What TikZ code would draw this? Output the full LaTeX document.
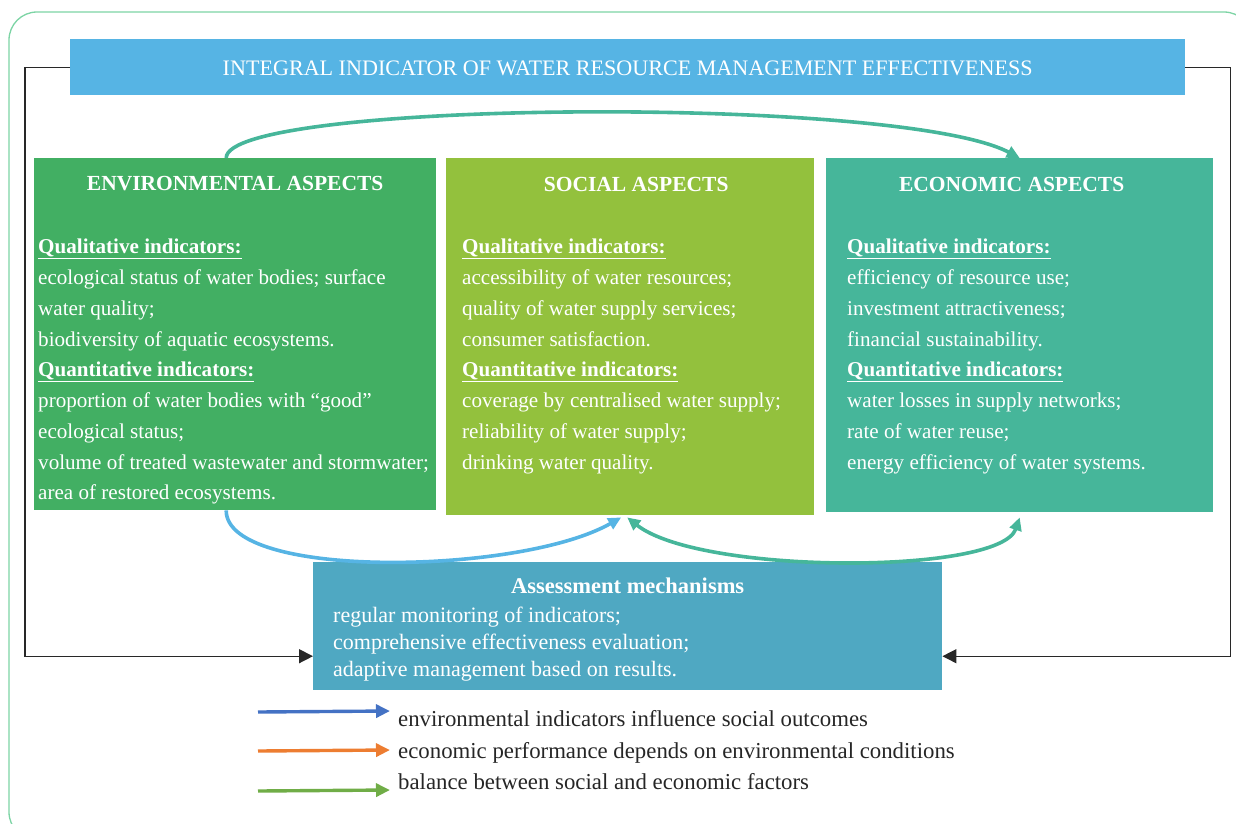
\documentclass[tikz,border=0pt]{standalone}
\usepackage{fontspec}
\setmainfont{Liberation Serif}
\usetikzlibrary{positioning,arrows.meta}

\definecolor{titleblue}{RGB}{86,180,228}
\definecolor{envgreen}{RGB}{66,175,99}
\definecolor{socgreen}{RGB}{147,193,61}
\definecolor{ecoteal}{RGB}{70,182,154}
\definecolor{assessblue}{RGB}{79,168,194}
\definecolor{framegreen}{RGB}{125,212,165}
\definecolor{feedgray}{RGB}{40,40,40}
\definecolor{legblue}{RGB}{68,114,196}
\definecolor{legorange}{RGB}{237,125,49}
\definecolor{leggreen}{RGB}{112,173,71}

\tikzset{
  aspectbox/.style={fill=#1, draw=none, inner sep=0pt, anchor=north west},
  headtext/.style={text=white, inner sep=0pt, font=\fontsize{21.5}{24}\selectfont\bfseries},
  bodytext/.style={text=white, inner sep=0pt, anchor=north west, align=left,
    font=\fontsize{21.1}{30.75}\selectfont},
  assesstext/.style={text=white, inner sep=0pt, anchor=north west, align=left,
    font=\fontsize{22}{27}\selectfont},
  legtext/.style={text=black!85, inner sep=0pt, anchor=base west,
    font=\fontsize{22.8}{24}\selectfont},
  linkarrow/.style={draw=#1, line width=3.6pt, -{Triangle[length=13pt,width=12pt]}},
  legarrow/.style={draw=#1, line width=3.4pt, -{Triangle[length=14pt,width=13pt]}},
  feedback/.style={draw=feedgray, line width=1.4pt, -{Triangle[length=14pt,width=14pt]}}
}

\newcommand{\qhead}[1]{\underline{\textbf{#1}}}

\begin{document}
\begin{tikzpicture}[x=1pt,y=-1pt]
  \useasboundingbox (0,0) rectangle (1236,823);

  % Drawing outer frame
  \draw[framegreen, line width=1.3pt, rounded corners=28pt] (9,12) rectangle (1252,840);

  % Drawing title box
  \node[aspectbox=titleblue, minimum width=1115pt, minimum height=56pt] (title) at (70,39) {};
  \node[text=white, inner sep=0pt, font=\fontsize{22.1}{24}\selectfont] (titletext)
    at ([yshift=-1pt]title.center) {INTEGRAL INDICATOR OF WATER RESOURCE MANAGEMENT EFFECTIVENESS};

  % Drawing aspect boxes
  \node[aspectbox=envgreen, minimum width=402pt, minimum height=352pt] (env) at (34,158) {};
  \node[aspectbox=socgreen, minimum width=368pt, minimum height=357pt] (soc) at (446,158) {};
  \node[aspectbox=ecoteal, minimum width=387pt, minimum height=354pt] (eco) at (826,158) {};

  % Marking headers
  \node[headtext] (envhead) at ([yshift=-26pt]env.north) {ENVIRONMENTAL ASPECTS};
  \node[headtext] (sochead) at ([xshift=6pt,yshift=-26pt]soc.north) {SOCIAL ASPECTS};
  \node[headtext] (ecohead) at ([xshift=-8pt,yshift=-26pt]eco.north) {ECONOMIC ASPECTS};

  % Marking indicator lists
  \node[bodytext] (envtext) at ([xshift=4pt,yshift=-81pt]env.north west) {%
    \qhead{Qualitative indicators:}\\
    ecological status of water bodies; surface\\
    water quality;\\
    biodiversity of aquatic ecosystems.\\
    \qhead{Quantitative indicators:}\\
    proportion of water bodies with “good”\\
    ecological status;\\
    volume of treated wastewater and stormwater;\\
    area of restored ecosystems.};
  \node[bodytext] (soctext) at ([xshift=16pt,yshift=-81pt]soc.north west) {%
    \qhead{Qualitative indicators:}\\
    accessibility of water resources;\\
    quality of water supply services;\\
    consumer satisfaction.\\
    \qhead{Quantitative indicators:}\\
    coverage by centralised water supply;\\
    reliability of water supply;\\
    drinking water quality.};
  \node[bodytext] (ecotext) at ([xshift=21pt,yshift=-81pt]eco.north west) {%
    \qhead{Qualitative indicators:}\\
    efficiency of resource use;\\
    investment attractiveness;\\
    financial sustainability.\\
    \qhead{Quantitative indicators:}\\
    water losses in supply networks;\\
    rate of water reuse;\\
    energy efficiency of water systems.};

  % Drawing assessment box
  \node[aspectbox=assessblue, minimum width=629pt, minimum height=128pt] (assess) at (313,562) {};
  \node[headtext, font=\fontsize{22.5}{24}\selectfont\bfseries] (assesshead)
    at ([yshift=-24pt]assess.north) {Assessment mechanisms};
  \node[assesstext] (assesslist) at ([xshift=20pt,yshift=-45pt]assess.north west) {%
    regular monitoring of indicators;\\
    comprehensive effectiveness evaluation;\\
    adaptive management based on results.};

  % Drawing links between aspects
  \draw[linkarrow=ecoteal] ([xshift=-9pt]env.north) .. controls (226,100) and (900,95) .. (eco.north);
  \draw[linkarrow=titleblue] ([xshift=-9pt]env.south) .. controls (226,580) and (520,575) .. ([xshift=-9pt,yshift=-2pt]soc.south);
  \draw[linkarrow=ecoteal, {Triangle[length=13pt,width=12pt]}-{Triangle[length=13pt,width=12pt]}]
    ([xshift=-3pt,yshift=-2pt]soc.south) .. controls (700,575) and (1000,575) .. ([yshift=-5pt]eco.south);

  % Drawing feedback lines
  \draw[feedback] (title.west) -- ++(-45,0) |- ([yshift=-30pt]assess.west);
  \draw[feedback] (title.east) -- ++(45,0) |- ([yshift=-30pt]assess.east);

  % Drawing legend
  \node[legtext] (leg1) at (398,726) {environmental indicators influence social outcomes};
  \node[legtext] (leg2) at (398,758) {economic performance depends on environmental conditions};
  \node[legtext] (leg3) at (398,789) {balance between social and economic factors};
  \coordinate (leg1s) at (258,712);
  \coordinate (leg2s) at (258,751);
  \coordinate (leg3s) at (258,791);
  \draw[legarrow=legblue] (leg1s) -- ([xshift=-8pt,yshift=1pt]leg1s -| leg1.west);
  \draw[legarrow=legorange] (leg2s) -- ([xshift=-8pt,yshift=1pt]leg2s -| leg2.west);
  \draw[legarrow=leggreen] (leg3s) -- ([xshift=-8pt,yshift=1pt]leg3s -| leg3.west);
\end{tikzpicture}
\end{document}
